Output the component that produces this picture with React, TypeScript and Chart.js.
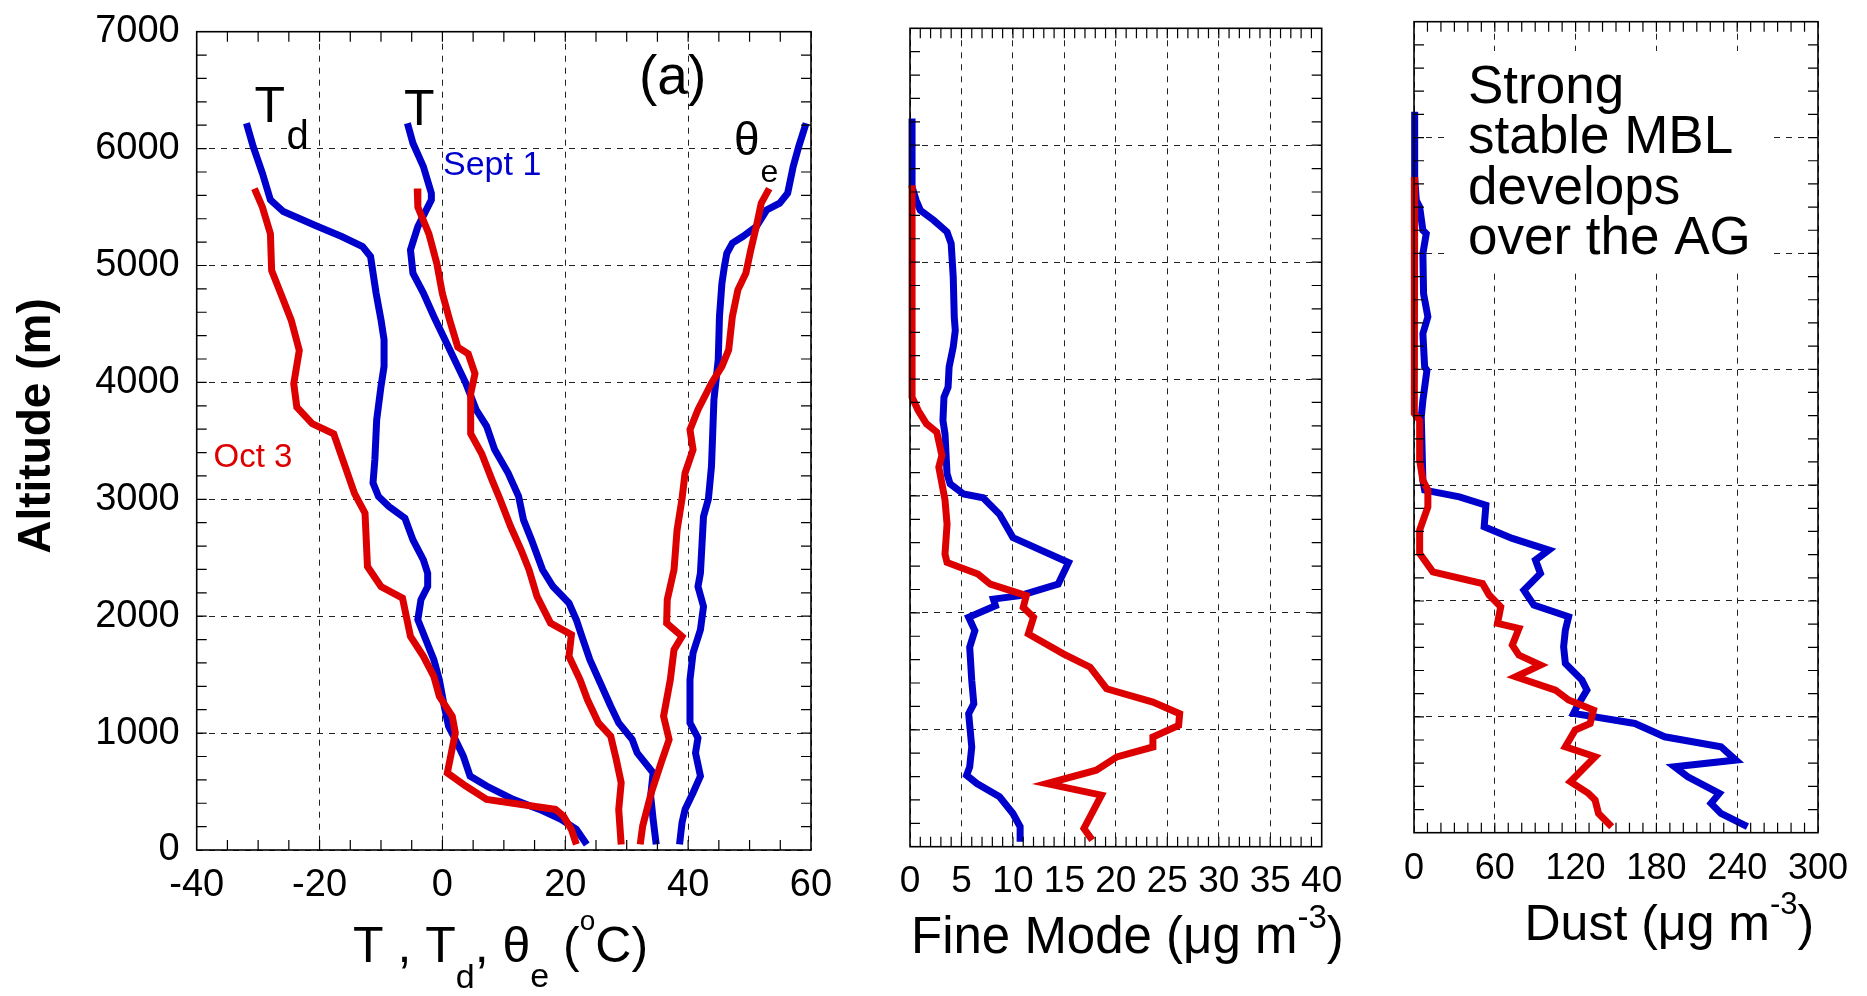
import React, { useEffect, useRef } from 'react';
import { Chart, registerables } from 'chart.js';

Chart.register(...registerables);

const FONT = '"Liberation Sans", Arial, Helvetica, sans-serif';
const BLUE = '#0000cc';
const RED = '#dd0000';
const PAGE_H = 996;

// ---------- tick labels ----------
const altitudeTicks = [0, 1000, 2000, 3000, 4000, 5000, 6000, 7000];
const tempTicks = [-40, -20, 0, 20, 40, 60];
const fineTicks = [0, 5, 10, 15, 20, 25, 30, 35, 40];
const dustTicks = [0, 60, 120, 180, 240, 300];

// ---------- panel (a): T, Td, theta_e ----------
const tdSeptAlt = [6217, 6017, 5789, 5561, 5462, 5333, 5248, 5162, 5077, 4764, 4536, 4365, 4137, 3966, 3681, 3339, 3140, 3023, 2938, 2838, 2653, 2482, 2368, 2254, 2141, 1970, 1799, 1628, 1457, 1230, 1059, 945, 803, 632, 547, 433, 347, 262, 176, 48];
const tdSeptVal = [-31.9, -30.8, -29.3, -28.0, -25.9, -20.3, -16.4, -13.0, -11.7, -10.8, -10.0, -9.5, -9.5, -10.0, -10.7, -11.0, -11.3, -10.4, -8.7, -6.1, -4.8, -3.1, -2.4, -2.4, -3.5, -4.0, -2.7, -1.4, -0.5, 0.3, 1.0, 2.1, 3.4, 4.5, 7.2, 11.5, 15.8, 19.3, 21.8, 23.5];

const tdOctAlt = [5658, 5499, 5271, 4957, 4758, 4530, 4274, 3989, 3789, 3647, 3561, 3305, 3048, 2881, 2425, 2254, 2155, 1827, 1657, 1486, 1315, 1144, 1002, 660, 547, 433, 347, 290, 176, 48];
const tdOctVal = [-30.6, -29.3, -28.0, -27.8, -26.3, -24.6, -23.3, -24.2, -23.7, -21.2, -17.7, -16.0, -14.3, -12.6, -12.2, -10.0, -6.5, -5.2, -3.1, -1.4, -0.5, 1.6, 2.1, 0.8, 3.8, 7.2, 18.4, 19.7, 21.0, 21.8];

const tSeptAlt = [6217, 6046, 5846, 5618, 5561, 5333, 5134, 4934, 4764, 4564, 4279, 3994, 3766, 3624, 3425, 3225, 3026, 2824, 2653, 2397, 2254, 2112, 1970, 1827, 1628, 1429, 1230, 1087, 945, 831, 660, 461, 262, 48];
const tSeptVal = [-5.7, -4.8, -3.1, -1.8, -1.8, -4.0, -5.2, -4.8, -3.1, -1.4, 1.2, 3.8, 5.5, 7.2, 8.5, 10.7, 12.4, 13.2, 14.5, 16.3, 18.0, 20.6, 21.8, 22.7, 24.0, 25.7, 27.4, 28.7, 30.9, 31.7, 34.3, 33.9, 34.3, 34.8];

const tOctAlt = [5658, 5499, 5271, 5014, 4758, 4530, 4302, 4245, 4074, 3903, 3561, 3390, 3162, 2997, 2767, 2568, 2397, 2169, 1941, 1842, 1657, 1457, 1287, 1087, 974, 774, 575, 347, 48];
const tOctVal = [-4.1, -4.0, -2.2, -0.9, 0.0, 1.2, 2.5, 4.2, 5.3, 4.6, 4.6, 6.4, 8.1, 9.4, 11.1, 12.8, 14.1, 15.4, 17.6, 21.0, 20.6, 22.4, 23.6, 25.4, 27.4, 28.3, 29.1, 28.7, 29.1];

const thetaSeptAlt = [6217, 6017, 5846, 5618, 5533, 5476, 5333, 5248, 5191, 5105, 4991, 4849, 4564, 4194, 3852, 3567, 3282, 3003, 2852, 2368, 2254, 2084, 1884, 1685, 1457, 1087, 959, 831, 632, 490, 347, 233, 48];
const thetaSeptVal = [59.2, 58.0, 57.1, 56.2, 54.9, 52.8, 51.1, 48.9, 47.2, 46.3, 45.9, 45.5, 45.1, 44.9, 44.2, 44.0, 43.8, 43.3, 42.5, 42.0, 41.6, 42.5, 42.0, 40.8, 40.3, 40.3, 41.6, 41.2, 42.0, 40.8, 39.5, 39.0, 38.6];

const thetaOctAlt = [5658, 5533, 5333, 5134, 4934, 4792, 4564, 4279, 4137, 3994, 3766, 3595, 3425, 3225, 3003, 2738, 2397, 2141, 1941, 1827, 1714, 1457, 1144, 945, 746, 490, 205, 48];
const thetaOctVal = [53.2, 51.9, 51.1, 50.2, 49.4, 48.1, 47.2, 46.6, 45.5, 43.8, 41.6, 40.3, 40.8, 39.5, 39.0, 38.2, 37.7, 36.6, 36.5, 39.0, 37.7, 37.1, 36.0, 36.9, 35.6, 34.0, 32.6, 32.2];

// ---------- panel 2: fine mode ----------
const fineSeptAlt = [6229, 5643, 5528, 5444, 5358, 5258, 5159, 4873, 4530, 4416, 4274, 4103, 3931, 3845, 3645, 3531, 3189, 3103, 3017, 2985, 2843, 2644, 2431, 2246, 2147, 2118, 2061, 1962, 1848, 1706, 1422, 1223, 1137, 853, 682, 611, 540, 427, 284, 171, 43];
const fineSeptVal = [0.2, 0.2, 0.6, 1.0, 2.3, 3.6, 4.0, 4.2, 4.3, 4.4, 4.2, 3.8, 3.7, 3.3, 3.2, 3.4, 3.6, 3.9, 5.2, 7.1, 8.7, 10.0, 15.4, 14.4, 10.7, 8.1, 8.3, 5.7, 6.3, 5.8, 6.0, 6.2, 5.7, 6.0, 5.8, 5.5, 6.5, 8.7, 10.0, 10.7, 10.7];

const fineOctAlt = [5658, 3845, 3731, 3617, 3546, 3346, 3246, 2966, 2758, 2502, 2431, 2332, 2246, 2147, 2047, 1962, 1820, 1649, 1535, 1351, 1237, 1137, 1038, 938, 853, 768, 654, 540, 441, 156, 57];
const fineOctVal = [0.2, 0.2, 0.8, 1.6, 2.6, 3.1, 2.8, 3.4, 3.6, 3.4, 3.6, 6.6, 7.8, 11.3, 11.0, 12.0, 11.5, 14.9, 17.5, 19.1, 23.6, 26.2, 26.1, 23.6, 23.6, 20.1, 18.1, 13.3, 18.6, 16.9, 17.7];

// ---------- panel 3: dust ----------
const dustSeptAlt = [6222, 5660, 5459, 5401, 5200, 5171, 4999, 4653, 4452, 4308, 4020, 3991, 3732, 3588, 3041, 2957, 2899, 2827, 2640, 2540, 2439, 2353, 2238, 2094, 1964, 1864, 1749, 1605, 1461, 1317, 1231, 1087, 1030, 943, 828, 742, 627, 569, 483, 339, 253, 167, 52];
const dustSeptVal = [0.5, 0.5, 1.7, 4.2, 6.6, 9.1, 6.6, 7.1, 10.3, 6.6, 7.9, 9.6, 6.6, 5.4, 6.6, 7.9, 33.7, 53.4, 52.1, 73.0, 100.1, 90.2, 93.9, 81.6, 89.0, 114.8, 112.4, 111.1, 112.4, 124.7, 128.4, 121.0, 118.5, 164.0, 186.1, 227.9, 239.0, 193.5, 203.3, 226.7, 220.6, 227.9, 247.6];

const dustOctAlt = [5660, 5171, 4596, 4020, 3617, 3559, 3214, 3041, 2955, 2813, 2611, 2410, 2252, 2151, 2051, 1950, 1806, 1763, 1619, 1533, 1447, 1346, 1231, 1145, 1058, 943, 886, 742, 656, 440, 339, 282, 167, 52];
const dustOctVal = [0.5, 0, 0.5, 0, 0.5, 4.2, 4.2, 6.6, 10.3, 10.3, 4.2, 4.2, 14.0, 50.9, 55.8, 64.4, 62.0, 77.9, 73.0, 77.9, 93.9, 75.5, 105.0, 114.8, 133.3, 130.8, 119.7, 112.4, 134.5, 116.1, 129.6, 134.5, 137.0, 146.8];

// ---------- texts ----------
const noteLines = ['Strong', 'stable MBL', 'develops', 'over the AG'];

type Seg = { t: string; size: number; dy?: number; weight?: string };
type Area = { left: number; right: number; top: number; bottom: number };

function drawSegs(ctx: CanvasRenderingContext2D, x: number, y: number, segs: Seg[], color = '#000') {
  ctx.save();
  ctx.fillStyle = color;
  ctx.textBaseline = 'alphabetic';
  ctx.textAlign = 'left';
  let cx = x;
  for (const s of segs) {
    ctx.font = `${s.weight || 'normal'} ${s.size}px ${FONT}`;
    ctx.fillText(s.t, cx, y + (s.dy || 0));
    cx += ctx.measureText(s.t).width;
  }
  ctx.restore();
}

const pts = (vals: number[], alts: number[]) => vals.map((v, i) => ({ x: v, y: alts[i] }));

const line = (label: string, vals: number[], alts: number[], color: string) => ({
  label,
  data: pts(vals, alts),
  showLine: true,
  borderColor: color,
  backgroundColor: color,
  borderWidth: 7,
  pointRadius: 0,
  pointHoverRadius: 0,
  fill: false,
  tension: 0,
  clip: false,
});

interface PanelSpec {
  id: string;
  canvasLeft: number;
  canvasWidth: number;
  area: Area;
  xTicks: number[];
  xMinor: number;
  xFont: number;
  xPad: number;
  showY: boolean;
  datasets: any[];
  underlay?: (ctx: CanvasRenderingContext2D, ox: number) => void;
  decorate: (ctx: CanvasRenderingContext2D, ox: number) => void;
}

const PANELS: PanelSpec[] = [
  {
    id: 'temp',
    canvasLeft: 0,
    canvasWidth: 860,
    area: { left: 196.7, right: 811, top: 31.7, bottom: 850 },
    xTicks: tempTicks,
    xMinor: 5,
    xFont: 38,
    xPad: 13,
    showY: true,
    datasets: [
      line('Td Oct 3', tdOctVal, tdOctAlt, RED),
      line('T Oct 3', tOctVal, tOctAlt, RED),
      line('θe Oct 3', thetaOctVal, thetaOctAlt, RED),
      line('Td Sept 1', tdSeptVal, tdSeptAlt, BLUE),
      line('T Sept 1', tSeptVal, tSeptAlt, BLUE),
      line('θe Sept 1', thetaSeptVal, thetaSeptAlt, BLUE),
    ],
    decorate: (ctx, ox) => {
      // y-axis title
      ctx.save();
      ctx.translate(37.5 - ox, 426);
      ctx.rotate(-Math.PI / 2);
      ctx.font = `bold 46px ${FONT}`;
      ctx.fillStyle = '#000';
      ctx.textAlign = 'center';
      ctx.textBaseline = 'middle';
      ctx.fillText('Altitude (m)', 0, 0);
      ctx.restore();
      // x-axis title
      drawSegs(ctx, 353 - ox, 961.7, [
        { t: 'T , T', size: 50 },
        { t: 'd', size: 34, dy: 26 },
        { t: ',', size: 50 },
        { t: ' θ', size: 50 },
        { t: 'e', size: 34, dy: 25 },
        { t: ' (', size: 50 },
        { t: 'o', size: 28, dy: -32 },
        { t: 'C)', size: 50 },
      ]);
      // curve labels
      drawSegs(ctx, 254.5 - ox, 121.7, [{ t: 'T', size: 50 }]);
      drawSegs(ctx, 286.6 - ox, 149, [{ t: 'd', size: 40 }]);
      drawSegs(ctx, 404 - ox, 125, [{ t: 'T', size: 50 }]);
      drawSegs(ctx, 734 - ox, 155, [{ t: 'θ', size: 46 }]);
      drawSegs(ctx, 760.5 - ox, 181.7, [{ t: 'e', size: 32 }]);
      drawSegs(ctx, 639 - ox, 93.5, [{ t: '(a)', size: 55 }]);
      drawSegs(ctx, 443 - ox, 175, [{ t: 'Sept 1', size: 34 }], BLUE);
      drawSegs(ctx, 213.5 - ox, 466.7, [{ t: 'Oct 3', size: 33 }], RED);
    },
  },
  {
    id: 'fine',
    canvasLeft: 860,
    canvasWidth: 510,
    area: { left: 910, right: 1321.7, top: 28.3, bottom: 846.7 },
    xTicks: fineTicks,
    xMinor: 1,
    xFont: 37,
    xPad: 12.8,
    showY: false,
    datasets: [
      line('Fine Oct 3', fineOctVal, fineOctAlt, RED),
      line('Fine Sept 1', fineSeptVal, fineSeptAlt, BLUE),
    ],
    decorate: (ctx, ox) => {
      drawSegs(ctx, 911 - ox, 953.3, [
        { t: 'Fine Mode (μg m', size: 51 },
        { t: '-3', size: 33, dy: -25 },
        { t: ')', size: 51 },
      ]);
    },
  },
  {
    id: 'dust',
    canvasLeft: 1370,
    canvasWidth: 497,
    area: { left: 1414, right: 1818, top: 21.7, bottom: 832.7 },
    xTicks: dustTicks,
    xMinor: 10,
    xFont: 36,
    xPad: 14.9,
    showY: false,
    datasets: [
      line('Dust Oct 3', dustOctVal, dustOctAlt, RED),
      line('Dust Sept 1', dustSeptVal, dustSeptAlt, BLUE),
    ],
    underlay: (ctx, ox) => {
      ctx.save();
      ctx.fillStyle = '#fff';
      ctx.fillRect(1446 - ox, 51, 325, 222);
      ctx.restore();
    },
    decorate: (ctx, ox) => {
      const baselines = [102.6, 153, 203.6, 254];
      noteLines.forEach((t, i) => drawSegs(ctx, 1468 - ox, baselines[i], [{ t, size: 53 }]));
      drawSegs(ctx, 1524.5 - ox, 940.3, [
        { t: 'Dust (μg m', size: 50 },
        { t: '-3', size: 31, dy: -26 },
        { t: ')', size: 50 },
      ]);
    },
  },
];

function buildConfig(spec: PanelSpec): any {
  const a = spec.area;
  const yAxisWidth = a.left - spec.canvasLeft;
  const xAxisHeight = PAGE_H - a.bottom;
  const ox = spec.canvasLeft;
  const frame = {
    id: 'frame-' + spec.id,
    beforeDatasetsDraw(chart: any) {
      if (spec.underlay) spec.underlay(chart.ctx, ox);
    },
    afterDraw(chart: any) {
      const ctx: CanvasRenderingContext2D = chart.ctx;
      const ca = chart.chartArea;
      const xs = chart.scales.x;
      const ys = chart.scales.y;
      const L = 10;
      ctx.save();
      ctx.strokeStyle = '#000';
      ctx.lineWidth = 1.2;
      ctx.beginPath();
      const x0 = spec.xTicks[0];
      const x1 = spec.xTicks[spec.xTicks.length - 1];
      const nx = Math.round((x1 - x0) / spec.xMinor);
      for (let i = 1; i < nx; i++) {
        const px = xs.getPixelForValue(x0 + i * spec.xMinor);
        ctx.moveTo(px, ca.bottom);
        ctx.lineTo(px, ca.bottom - L);
        ctx.moveTo(px, ca.top);
        ctx.lineTo(px, ca.top + L);
      }
      const y0 = altitudeTicks[0];
      const y1 = altitudeTicks[altitudeTicks.length - 1];
      const ny = Math.round((y1 - y0) / 200);
      for (let i = 1; i < ny; i++) {
        const py = ys.getPixelForValue(y0 + i * 200);
        ctx.moveTo(ca.left, py);
        ctx.lineTo(ca.left + L, py);
        ctx.moveTo(ca.right, py);
        ctx.lineTo(ca.right - L, py);
      }
      ctx.stroke();
      ctx.lineWidth = 1.6;
      ctx.strokeRect(ca.left, ca.top, ca.right - ca.left, ca.bottom - ca.top);
      ctx.restore();
      spec.decorate(ctx, ox);
    },
  };
  return {
    type: 'scatter',
    data: { datasets: spec.datasets },
    options: {
      responsive: false,
      animation: false,
      events: [],
      layout: {
        padding: { left: 0, top: a.top, right: spec.canvasLeft + spec.canvasWidth - a.right, bottom: 0 },
      },
      plugins: { legend: { display: false }, tooltip: { enabled: false }, title: { display: false } },
      scales: {
        x: {
          type: 'linear',
          position: 'bottom',
          min: spec.xTicks[0],
          max: spec.xTicks[spec.xTicks.length - 1],
          afterBuildTicks: (s: any) => {
            s.ticks = spec.xTicks.map((v) => ({ value: v }));
          },
          afterFit: (s: any) => {
            s.height = xAxisHeight;
            s.paddingLeft = 0;
            s.paddingRight = 0;
            s.paddingTop = 0;
            s.paddingBottom = 0;
          },
          ticks: {
            autoSkip: false,
            maxRotation: 0,
            minRotation: 0,
            padding: spec.xPad,
            color: '#000',
            font: { family: FONT, size: spec.xFont },
            callback: (v: any) => String(v),
          },
          grid: { color: '#222', lineWidth: 1, drawTicks: false },
          border: { display: false, dash: [6, 6] },
        },
        y: {
          type: 'linear',
          position: 'left',
          min: altitudeTicks[0],
          max: altitudeTicks[altitudeTicks.length - 1],
          afterBuildTicks: (s: any) => {
            s.ticks = altitudeTicks.map((v) => ({ value: v }));
          },
          afterFit: (s: any) => {
            s.width = yAxisWidth;
            s.paddingLeft = 0;
            s.paddingRight = 0;
            s.paddingTop = 0;
            s.paddingBottom = 0;
          },
          ticks: {
            display: spec.showY,
            padding: 17,
            color: '#000',
            font: { family: FONT, size: 38 },
            callback: (v: any) => String(v),
          },
          grid: { color: '#222', lineWidth: 1, drawTicks: false },
          border: { display: false, dash: [6, 6] },
        },
      },
    },
    plugins: [frame],
  };
}

export default function App() {
  const r0 = useRef<HTMLCanvasElement>(null);
  const r1 = useRef<HTMLCanvasElement>(null);
  const r2 = useRef<HTMLCanvasElement>(null);
  const refs = [r0, r1, r2];
  useEffect(() => {
    const charts = PANELS.map((p, i) => new Chart(refs[i].current as HTMLCanvasElement, buildConfig(p)));
    return () => charts.forEach((c) => c.destroy());
  }, []);
  return (
    <div style={{ position: 'fixed', left: 0, top: 0, width: 1867, height: PAGE_H, background: '#fff', overflow: 'hidden' }}>
      {PANELS.map((p, i) => (
        <canvas
          key={p.id}
          ref={refs[i]}
          width={p.canvasWidth}
          height={PAGE_H}
          style={{ position: 'absolute', left: p.canvasLeft, top: 0, width: p.canvasWidth, height: PAGE_H }}
        />
      ))}
    </div>
  );
}
